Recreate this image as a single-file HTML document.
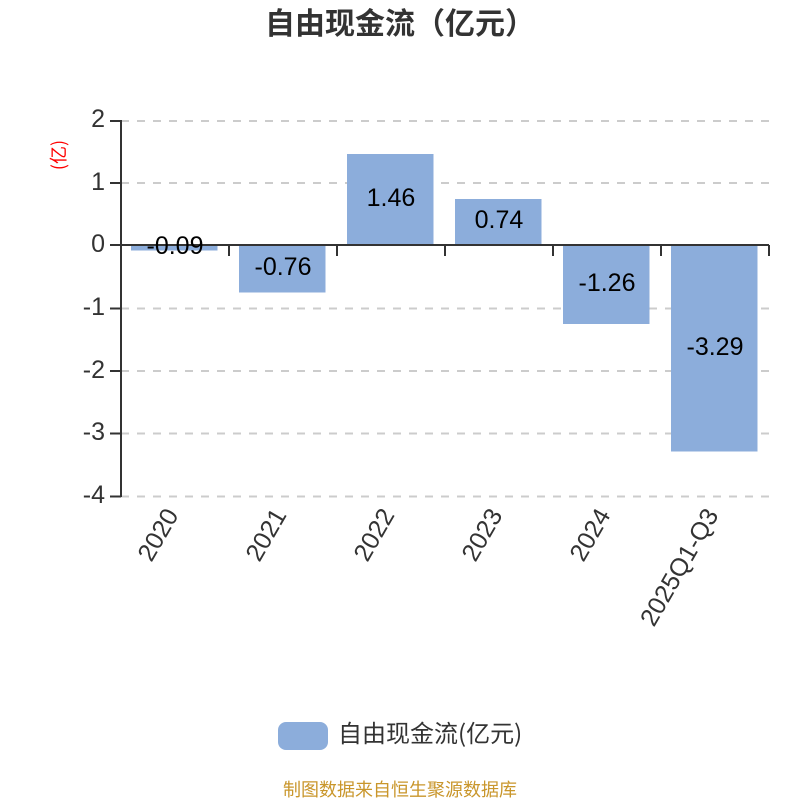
<!DOCTYPE html>
<html><head><meta charset="utf-8">
<style>html,body{margin:0;padding:0;background:#fff;width:800px;height:800px;overflow:hidden}svg{display:block}
text{font-family:"Noto Sans CJK SC","Liberation Sans",sans-serif}
.n text{font-family:"Liberation Sans",sans-serif}</style></head>
<body>
<svg width="800" height="800" viewBox="0 0 800 800" xmlns="http://www.w3.org/2000/svg">
<text x="400" y="34" text-anchor="middle" font-size="30" font-weight="bold" fill="#333">自由现金流（亿元）</text>
<g stroke="#ccc" stroke-width="2" stroke-dasharray="8 8">
<path d="M121 121H769M121 183H769M121 308.500H769M121 371H769M121 433.500H769M121 496.500H769" fill="none"/>
</g>
<g fill="#8caddb">
<rect x="131" y="245" width="86.500" height="5.500"/>
<rect x="239" y="245" width="86.500" height="47.500"/>
<rect x="347" y="154" width="86.500" height="91"/>
<rect x="455" y="199" width="86.500" height="46"/>
<rect x="563" y="245" width="86.500" height="79"/>
<rect x="671" y="245" width="86.500" height="206.500"/>
</g>
<g stroke="#333" stroke-width="2" fill="none">
<path d="M121 120V497"/>
<path d="M110 121H121M110 183H121M110 245H121M110 308.500H121M110 371H121M110 433.500H121M110 496.500H121"/>
<path d="M121 245H769"/>
<path d="M121 245V256M229 245V256M337 245V256M445 245V256M553 245V256M661 245V256M769 245V256"/>
</g>
<g class="n" font-size="25" fill="#333" text-anchor="end">
<text x="105" y="127">2</text>
<text x="105" y="190">1</text>
<text x="105" y="252">0</text>
<text x="105" y="315">-1</text>
<text x="105" y="378">-2</text>
<text x="105" y="440">-3</text>
<text x="105" y="503">-4</text>
</g>
<text transform="translate(65 155) rotate(-90)" text-anchor="middle" font-size="18" fill="#f00">(亿)</text>
<g class="n" font-size="25" fill="#000" text-anchor="middle">
<text x="175" y="254">-0.09</text>
<text x="283" y="275">-0.76</text>
<text x="391" y="206">1.46</text>
<text x="499" y="228">0.74</text>
<text x="607" y="291">-1.26</text>
<text x="715" y="355">-3.29</text>
</g>
<g class="n" font-size="25" fill="#333" text-anchor="end">
<text transform="translate(164 506) rotate(-60)" dominant-baseline="hanging">2020</text>
<text transform="translate(272 506) rotate(-60)" dominant-baseline="hanging">2021</text>
<text transform="translate(380 506) rotate(-60)" dominant-baseline="hanging">2022</text>
<text transform="translate(488 506) rotate(-60)" dominant-baseline="hanging">2023</text>
<text transform="translate(596 506) rotate(-60)" dominant-baseline="hanging">2024</text>
<text transform="translate(704 506) rotate(-60)" dominant-baseline="hanging">2025Q1-Q3</text>
</g>
<rect x="278" y="722" width="50" height="28" rx="8" fill="#8caddb"/>
<text x="338" y="742" font-size="24" fill="#333">自由现金流(亿元)</text>
<text x="400" y="796" text-anchor="middle" font-size="18" fill="#c9962b">制图数据来自恒生聚源数据库</text>
</svg>
</body></html>
